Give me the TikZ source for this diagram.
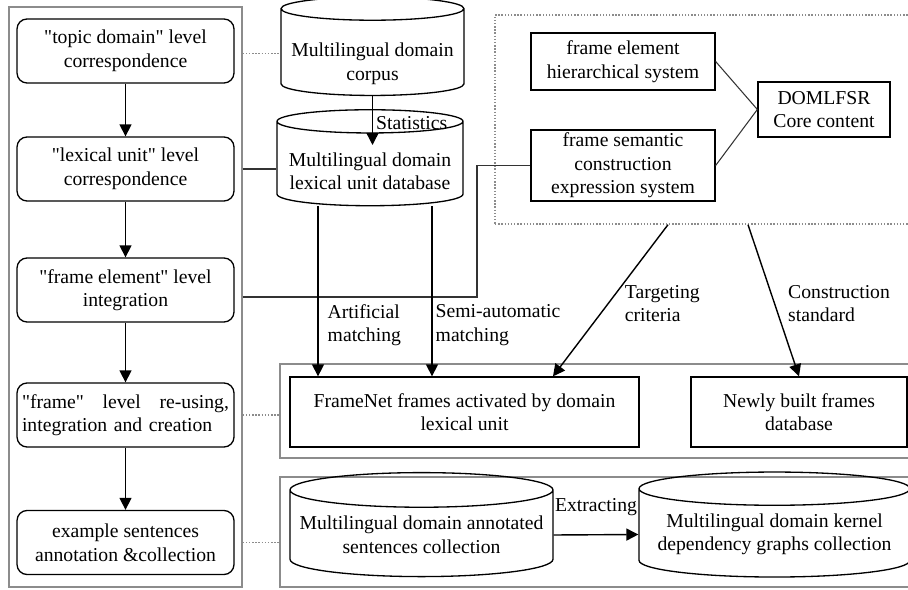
\documentclass[tikz,border=0pt]{standalone}
\usepackage{fontspec}
\setmainfont{Liberation Serif}[Ligatures=TeXOff]
\usepackage{tikz}
\usetikzlibrary{arrows.meta,positioning,shapes.geometric}

\begin{document}
\begin{tikzpicture}[
	x=0.02cm,
	y=-0.02cm,
	>={Triangle[length=0.24cm,width=0.24cm]},
	font=\fontsize{11.2}{13.4}\selectfont,
	stage/.style={draw, rounded corners=0.2cm, line width=0.75pt, minimum width=4.34cm, minimum height=1.28cm, align=center, inner sep=1pt},
	box/.style={draw, line width=0.75pt, align=center, inner sep=1pt},
	db/.style={draw, cylinder, shape border rotate=90, aspect=0.14, line width=0.75pt, align=center, inner sep=1pt},
	panel/.style={draw=black!45, line width=0.8pt, inner sep=0pt},
	flow/.style={->, line width=0.8pt},
	link/.style={black!45, densely dotted, line width=0.8pt},
	conn/.style={black!80, line width=0.6pt},
	note/.style={align=left, inner sep=0pt, anchor=west}
  ]

  \useasboundingbox (0,0) rectangle (908,590);
  \clip (0,0) rectangle (908,590);

  % panels
  \node[panel, minimum width=4.66cm, minimum height=11.6cm] (left) at (125.5,297) {};
  \node[panel, densely dotted, minimum width=8.3cm, minimum height=4.18cm] (dom) at (702.5,119.5) {};
  \node[panel, minimum width=12.6cm, minimum height=1.88cm] (mid) at (595,411) {};
  \node[panel, minimum width=12.6cm, minimum height=2.2cm] (bottom) at (595,532) {};

  % levels
  \node[stage] (topic) 		at (125.5,51) 	{"topic domain" level\\correspondence};
  \node[stage] (lexical) 	at (125.5,169) 	{"lexical unit" level\\correspondence};
  \node[stage] (element) 	at (125.5,290) 	{"frame element" level\\integration};
  \node[stage, align=left, text width=4.14cm] (frame) at (125.5,415)
  	{"frame"\hfill level\hfill re-using,\\integration and creation};
  \node[stage] (sentences) 	at (125.5,542.5) {example sentences\\annotation \&collection};

  % databases
  \node[db, minimum width=3.66cm, minimum height=1.86cm] (corpus) at (372.5,53.5) {\rule{0pt}{0.68cm}Multilingual domain\\corpus};
  \node[db, minimum width=3.72cm, minimum height=1.92cm] (lexdb) at (370,165) {\rule{0pt}{0.52cm}Multilingual domain\\lexical unit database};
  \node[db, minimum width=5.26cm, minimum height=2.08cm] (annot) at (421.5,535) {Multilingual domain annotated\\sentences collection};
  \node[db, minimum width=5.42cm, minimum height=2.1cm] (kernel) at (774.5,534.5) {Multilingual domain kernel\\dependency graphs collection};

  % core content
  \node[box, minimum width=3.68cm, minimum height=1.14cm] (fehs) at (623,61.5) {frame element\\hierarchical system};
  \node[box, minimum width=3.68cm, minimum height=1.42cm] (fsce) at (623,165.5) {frame semantic\\construction\\expression system};
  \node[box, minimum width=2.64cm, minimum height=1.1cm] (core) at (824,109.5) {DOMLFSR\\Core content};

  % frames
  \node[box, minimum width=6.98cm, minimum height=1.4cm] (fnet) at (464.5,412) {FrameNet frames activated by domain\\lexical unit};
  \node[box, minimum width=4.32cm, minimum height=1.4cm] (newfr) at (799,412) {Newly built frames\\database};

  \coordinate (stat) at (374,145);
  \coordinate (turn) at (477,297);

  \path[flow] (topic) 	edge (lexical)
  		(lexical) 	edge (element)
  		(element) 	edge (frame)
  		(frame) 	edge (sentences);

  \draw[link] (corpus.west -| left.east) -- (corpus.west);
  \draw[conn] (lexical.east -| left.east) -- (lexical.east -| lexdb.west);
  \draw[conn] (turn -| left.east) -- (turn) -- (turn |- fsce.west) -- (fsce.west);
  \draw[link] (frame.east -| left.east) -- (frame.east -| mid.west);
  \draw[link] (sentences.east -| left.east) -- (sentences.east -| bottom.west);

  \draw[flow] (corpus.south) -- node[note, pos=0.55, xshift=0.06cm] {Statistics} (corpus.south |- stat);

  \draw[flow] ([xshift=-1.04cm]lexdb.south) -- node[note, pos=0.7, xshift=0.18cm] {Artificial\\matching}
  	([xshift=-1.04cm]lexdb.south |- fnet.north);
  \draw[flow] ([xshift=1.24cm]lexdb.south) -- node[note, pos=0.7, xshift=0.06cm] {Semi-automatic\\matching}
  	([xshift=1.24cm]lexdb.south |- fnet.north);

  \draw[conn] (fehs.east) -- (core.west);
  \draw[conn] (fsce.east) -- (core.west);

  \draw[flow] ([xshift=-0.69cm]dom.south) -- node[note, pos=0.52, xshift=0.32cm] {Targeting\\criteria} ([xshift=1.77cm]fnet.north);
  \draw[flow] ([xshift=0.91cm]dom.south) -- node[note, pos=0.52, xshift=0.26cm] {Construction\\standard} (newfr.north);

  \draw[flow] (annot.east) -- node[above=0.36cm, inner sep=0pt] {Extracting} (kernel.west);

\end{tikzpicture}
\end{document}
